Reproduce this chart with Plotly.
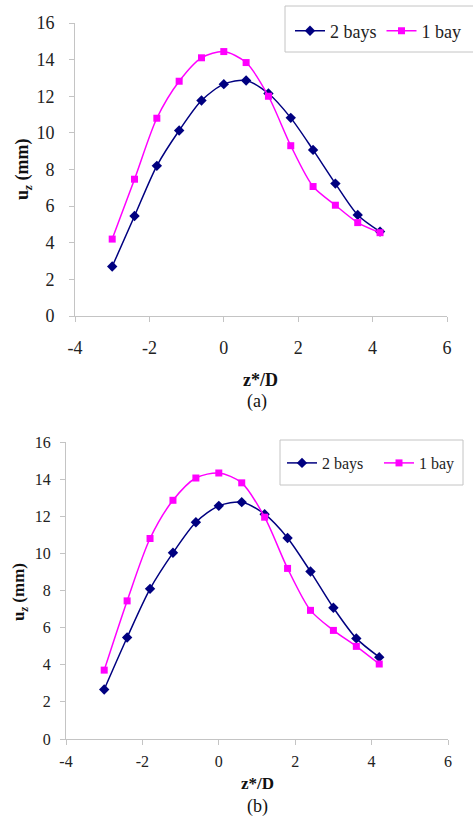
import plotly.graph_objects as go

z_over_d = [-3.0, -2.4, -1.8, -1.2, -0.6, 0.0, 0.6, 1.2, 1.8, 2.4, 3.0, 3.6, 4.2]

a_two_bays = [2.7, 5.46, 8.2, 10.13, 11.77, 12.66, 12.86, 12.15, 10.82, 9.07, 7.23, 5.52, 4.61]
a_one_bay = [4.2, 7.47, 10.8, 12.82, 14.1, 14.44, 13.84, 12.0, 9.3, 7.07, 6.05, 5.1, 4.55]

b_two_bays = [2.67, 5.47, 8.09, 10.03, 11.68, 12.56, 12.76, 12.11, 10.83, 9.02, 7.07, 5.42, 4.41]
b_one_bay = [3.71, 7.44, 10.8, 12.86, 14.06, 14.33, 13.8, 11.95, 9.19, 6.93, 5.85, 4.99, 4.04]

y_ticks = [0, 2, 4, 6, 8, 10, 12, 14, 16]
x_ticks = [-4, -2, 0, 2, 4, 6]
x_tick_labels = ["-4", "-2", "0", "2", "4", "6"]

NAVY = "#000080"
MAGENTA = "#FF00FF"
GRID = "#c4c4c4"
SERIF = "Liberation Serif, Times New Roman, serif"
W, H = 473, 817

fig = go.Figure()

def add_pair(two, one, xa, ya, leg):
    fig.add_trace(go.Scatter(
        x=z_over_d, y=two, name="2 bays", mode="lines+markers",
        line=dict(color=NAVY, width=1.5, shape="spline", smoothing=0.8),
        marker=dict(symbol="diamond", size=8, color=NAVY),
        xaxis=xa, yaxis=ya, legend=leg))
    fig.add_trace(go.Scatter(
        x=z_over_d, y=one, name="1 bay", mode="lines+markers",
        line=dict(color=MAGENTA, width=1.5, shape="spline", smoothing=0.8),
        marker=dict(symbol="square", size=7, color=MAGENTA),
        xaxis=xa, yaxis=ya, legend=leg))

add_pair(a_two_bays, a_one_bay, "x", "y", "legend")
add_pair(b_two_bays, b_one_bay, "x2", "y2", "legend2")

def px_x(p):
    return p / W

def px_y(p):
    return 1 - p / H

def axis(size, **kw):
    d = dict(
        showgrid=False, zeroline=False, showline=True, linecolor=GRID, linewidth=1,
        ticks="outside", ticklen=5, tickcolor=GRID,
        tickfont=dict(family=SERIF, size=size, color="#222222"),
    )
    d.update(kw)
    return d

def legend(x, yc, size, **kw):
    d = dict(orientation="h", x=px_x(x), y=px_y(yc), xanchor="left", yanchor="middle",
             borderwidth=0, bgcolor="rgba(0,0,0,0)",
             font=dict(family=SERIF, size=size, color="#222222"),
             itemwidth=30, tracegroupgap=0)
    d.update(kw)
    return d

fig.update_layout(
    width=W, height=H,
    margin=dict(l=0, r=0, t=0, b=0, autoexpand=False),
    paper_bgcolor="white", plot_bgcolor="white",
    xaxis=axis(18, domain=[px_x(75), px_x(447)], range=[-4, 6], tickvals=x_ticks,
               ticktext=x_tick_labels, anchor="y", ticklabelstandoff=10),
    yaxis=axis(18, domain=[px_y(316), px_y(23)], range=[0, 16], tickvals=y_ticks,
               anchor="x", ticklabelstandoff=11),
    xaxis2=axis(16, domain=[px_x(66), px_x(448)], range=[-4, 6], tickvals=x_ticks,
                ticktext=x_tick_labels, anchor="y2", ticklabelstandoff=3),
    yaxis2=axis(16, domain=[px_y(739), px_y(442)], range=[0, 16], tickvals=y_ticks,
                anchor="x2", ticklabelstandoff=6),
    legend=legend(290, 31, 18),
    legend2=legend(282, 463, 16, entrywidth=52, entrywidthmode="pixels"),
)

# legend frames
fig.add_shape(type="rect", xref="paper", yref="paper",
              x0=px_x(285), x1=px_x(490), y0=px_y(52), y1=px_y(6),
              line=dict(color=GRID, width=1), fillcolor="white", layer="below")
fig.add_shape(type="rect", xref="paper", yref="paper",
              x0=px_x(280), x1=px_x(463), y0=px_y(485), y1=px_y(440),
              line=dict(color=GRID, width=1), fillcolor="white", layer="below")

def text(x, y, s, size=18, angle=0):
    fig.add_annotation(x=px_x(x), y=px_y(y), xref="paper", yref="paper", text=s,
                       showarrow=False, textangle=angle, xanchor="center", yanchor="middle",
                       font=dict(family=SERIF, size=size, color="#111111"))

text(260, 380, "<b>z*/D</b>")
text(257, 402, "(a)")
text(24, 170, "<b>u<sub><i>z</i></sub> (mm)</b>", angle=-90)
text(257, 783, "<b>z*/D</b>", size=17)
text(257, 806, "(b)")
text(20, 592, "<b>u<sub><i>z</i></sub> (mm)</b>", size=17, angle=-90)

fig.write_html("out.html")
